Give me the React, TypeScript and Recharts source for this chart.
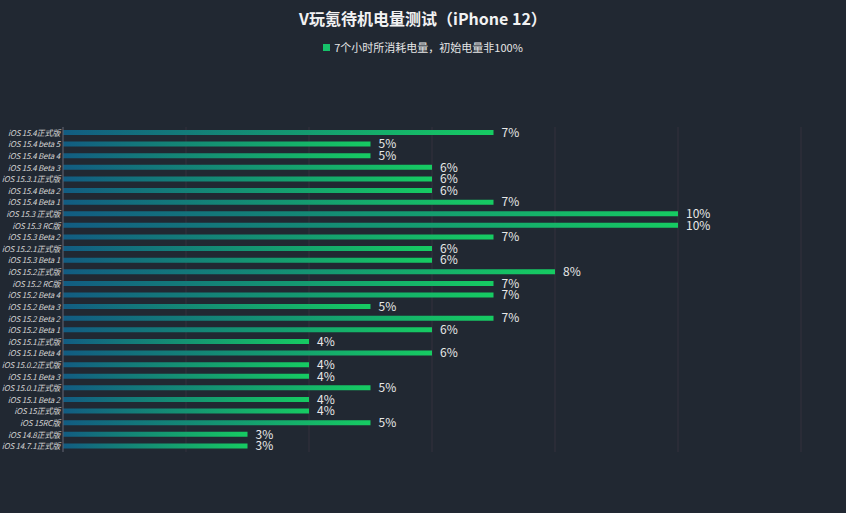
import { BarChart, Bar, XAxis, YAxis, CartesianGrid, LabelList } from "recharts";

const VERSIONS = [
  "iOS 15.4正式版",
  "iOS 15.4 beta 5",
  "iOS 15.4 Beta 4",
  "iOS 15.4 Beta 3",
  "iOS 15.3.1正式版",
  "iOS 15.4 Beta 2",
  "iOS 15.4 Beta 1",
  "iOS 15.3 正式版",
  "iOS 15.3 RC版",
  "iOS 15.3 Beta 2",
  "iOS 15.2.1正式版",
  "iOS 15.3 Beta 1",
  "iOS 15.2正式版",
  "iOS 15.2 RC版",
  "iOS 15.2 Beta 4",
  "iOS 15.2 Beta 3",
  "iOS 15.2 Beta 2",
  "iOS 15.2 Beta 1",
  "iOS 15.1正式版",
  "iOS 15.1 Beta 4",
  "iOS 15.0.2正式版",
  "iOS 15.1 Beta 3",
  "iOS 15.0.1正式版",
  "iOS 15.1 Beta 2",
  "iOS 15正式版",
  "iOS 15RC版",
  "iOS 14.8正式版",
  "iOS 14.7.1正式版",
];

// battery drained over 7 hours, in percent
const DRAIN = [7, 5, 5, 6, 6, 6, 7, 10, 10, 7, 6, 6, 8, 7, 7, 5, 7, 6, 4, 6, 4, 4, 5, 4, 4, 5, 3, 3];

const X_TICKS = [0, 2, 4, 6, 8, 10, 12];

const data = VERSIONS.map((name, i) => ({ name, drain: DRAIN[i] }));

const FONT = '"Noto Sans CJK SC", "Noto Sans", sans-serif';

// single-line tick, recharts would otherwise wrap the long names
function VersionTick(props: any) {
  const { x, y, payload } = props;
  return (
    <text
      x={x + 5}
      y={y}
      dy={3}
      textAnchor="end"
      fontSize={8}
      fontStyle="italic"
      fill="#d4d4d4"
      fontFamily={FONT}
      letterSpacing={-0.2}
    >
      {payload.value}
    </text>
  );
}

export default function App() {
  return (
    <div
      style={{
        position: "relative",
        width: 846,
        height: 513,
        background: "#212832",
        fontFamily: FONT,
      }}
    >
      <style>{"body{margin:0}"}</style>
      <div
        style={{
          position: "absolute",
          top: 6,
          left: 0,
          width: 846,
          textAlign: "center",
          color: "#f2f2f2",
          fontSize: 16,
          fontWeight: 700,
        }}
      >
        V玩氪待机电量测试（iPhone 12）
      </div>
      <div
        style={{
          position: "absolute",
          top: 39,
          left: 0,
          width: 846,
          display: "flex",
          justifyContent: "center",
          alignItems: "center",
          color: "#e6e6e6",
          fontSize: 11,
        }}
      >
        <span
          style={{
            display: "inline-block",
            width: 7,
            height: 7,
            background: "#16c26a",
            marginRight: 4,
          }}
        />
        7个小时所消耗电量，初始电量非100%
      </div>
      <BarChart
        layout="vertical"
        width={846}
        height={513}
        data={data}
        margin={{ top: 127, right: 45, bottom: 61, left: 0 }}
        style={{ position: "absolute", top: 0, left: 0 }}
      >
        <defs>
          <linearGradient id="barGrad" x1="0" y1="0" x2="1" y2="0">
            <stop offset="0%" stopColor="#125c82" />
            <stop offset="100%" stopColor="#16cb62" />
          </linearGradient>
        </defs>
        <CartesianGrid horizontal={false} stroke="#35303d" />
        <XAxis type="number" domain={[0, 12]} ticks={X_TICKS} hide />
        <YAxis
          type="category"
          dataKey="name"
          width={63}
          interval={0}
          axisLine={{ stroke: "#5c6370" }}
          tickLine={false}
          tick={<VersionTick />}
        />
        <Bar dataKey="drain" fill="url(#barGrad)" barSize={5} isAnimationActive={false}>
          <LabelList
            dataKey="drain"
            position="right"
            offset={8}
            formatter={(v: number) => `${v}%`}
            style={{ fontSize: 12, fill: "#e8e8e8", fontFamily: FONT }}
          />
        </Bar>
      </BarChart>
    </div>
  );
}
